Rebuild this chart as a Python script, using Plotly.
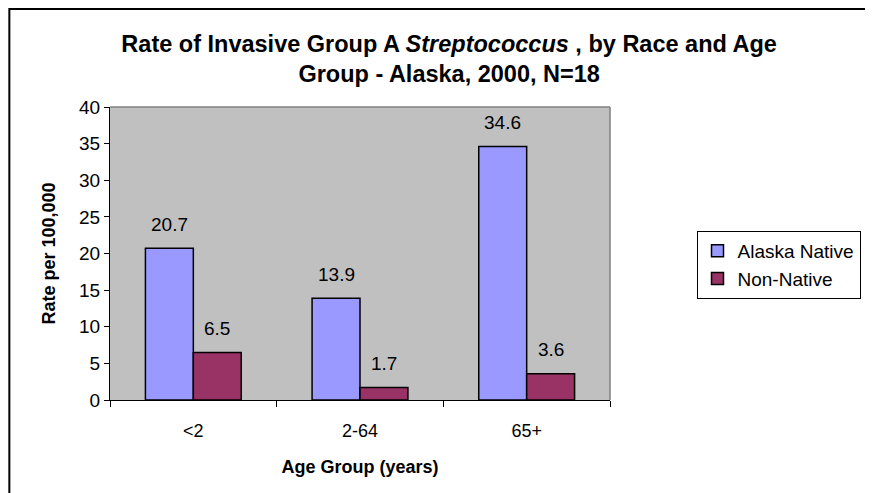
import plotly.graph_objects as go

age_groups = ['<2', '2-64', '65+']
alaska_native = [20.7, 13.9, 34.6]
non_native = [6.5, 1.7, 3.6]
y_ticks = [0, 5, 10, 15, 20, 25, 30, 35, 40]

fnt = 'Liberation Sans, Arial, sans-serif'

fig = go.Figure()
fig.add_trace(go.Bar(x=age_groups, y=alaska_native, name='Alaska Native',
                     marker=dict(color='#9999FF', line=dict(color='black', width=1.5))))
fig.add_trace(go.Bar(x=age_groups, y=non_native, name='Non-Native',
                     marker=dict(color='#993366', line=dict(color='black', width=1.5))))

# value labels above each bar
for vals, shift in [(alaska_native, -24), (non_native, 24)]:
    for cat, v in zip(age_groups, vals):
        fig.add_annotation(x=cat, y=v, text=f'{v}', showarrow=False,
                           xshift=shift, yshift=24, yanchor='middle',
                           font=dict(family=fnt, size=19, color='black'))

# page body adds an 8px margin, so the figure is a bit smaller than the window
fig.update_layout(
    width=865, height=485,
    margin=dict(l=102, r=261, t=99, b=93),
    paper_bgcolor='white',
    plot_bgcolor='#C0C0C0',
    barmode='group',
    bargap=0.425,
    bargroupgap=0,
    font=dict(family=fnt, size=18, color='black'),
    title=dict(text='<b>Rate of Invasive Group A <i>Streptococcus</i> , by Race and Age<br>Group - Alaska, 2000, N=18</b>',
               x=0.51, xanchor='center', y=0.91, yanchor='middle',
               font=dict(family=fnt, size=23.5, color='black')),
    legend=dict(x=1.173, y=0.577, xanchor='left', yanchor='top',
                bgcolor='white', bordercolor='black', borderwidth=1,
                font=dict(family=fnt, size=19, color='black'),
                tracegroupgap=4, itemwidth=30),
    showlegend=True,
)

fig.update_xaxes(
    showline=True, linecolor='black', linewidth=1,
    ticks='outside', ticklen=6, tickcolor='black', tickson='boundaries',
    ticklabelstandoff=14,
    showgrid=False,
    tickfont=dict(size=18),
    title=dict(text='<b>Age Group (years)</b>', font=dict(family=fnt, size=18), standoff=20),
)
fig.update_yaxes(
    range=[0, 40], tickvals=y_ticks,
    showline=True, linecolor='black', linewidth=1,
    ticks='outside', ticklen=5, tickcolor='black',
    showgrid=False, zeroline=False,
    tickfont=dict(size=19),
    title=dict(text='<b>Rate per 100,000</b>', font=dict(family=fnt, size=18), standoff=18),
)

# gray frame on top and right of plot area
fig.add_shape(type='line', xref='paper', yref='paper', x0=0, x1=1, y0=1, y1=1,
              line=dict(color='#808080', width=1.5))
fig.add_shape(type='line', xref='paper', yref='paper', x0=1, x1=1, y0=0, y1=1,
              line=dict(color='#808080', width=1.5))
# outer chart border
fig.add_shape(type='rect', xref='paper', yref='paper', x0=-0.2013, x1=1.62, y0=-0.4, y1=1.3345,
              line=dict(color='black', width=2), layer='below')

fig.write_html('out.html')
